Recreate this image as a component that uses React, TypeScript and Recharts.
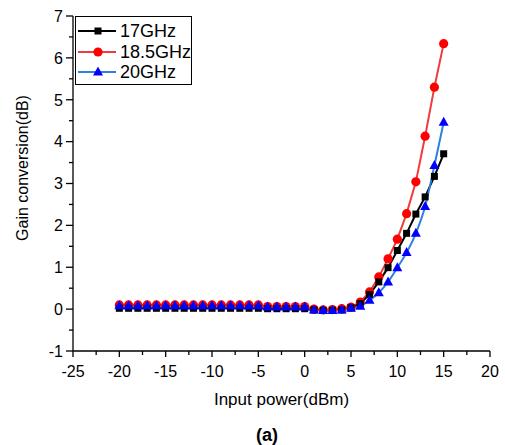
import React from 'react';
import { LineChart, Line, XAxis, YAxis } from 'recharts';

const inputPower = [-20, -19, -18, -17, -16, -15, -14, -13, -12, -11, -10, -9, -8, -7, -6, -5, -4, -3, -2, -1, 0, 1, 2, 3, 4, 5, 6, 7, 8, 9, 10, 11, 12, 13, 14, 15];
const gain17 = [0.02, 0.02, 0.02, 0.02, 0.02, 0.02, 0.02, 0.02, 0.02, 0.02, 0.02, 0.02, 0.02, 0.02, 0.02, 0.02, 0.01, 0.01, 0.01, 0.01, 0.01, -0.02, -0.03, -0.03, -0.02, 0.03, 0.13, 0.35, 0.65, 0.99, 1.4, 1.81, 2.27, 2.68, 3.17, 3.71];
const gain185 = [0.1, 0.1, 0.1, 0.1, 0.1, 0.1, 0.1, 0.1, 0.1, 0.1, 0.1, 0.1, 0.1, 0.1, 0.1, 0.1, 0.06, 0.06, 0.06, 0.06, 0.06, 0.0, -0.02, -0.01, 0.01, 0.05, 0.17, 0.41, 0.77, 1.2, 1.67, 2.28, 3.04, 4.13, 5.3, 6.34];
const gain20 = [0.08, 0.08, 0.08, 0.08, 0.08, 0.08, 0.08, 0.08, 0.08, 0.08, 0.08, 0.08, 0.08, 0.08, 0.08, 0.08, 0.05, 0.05, 0.05, 0.05, 0.05, -0.02, -0.03, -0.03, -0.02, 0.02, 0.07, 0.21, 0.39, 0.65, 0.99, 1.35, 1.81, 2.45, 3.43, 4.46];

const xTicks = [-25, -22.5, -20, -17.5, -15, -12.5, -10, -7.5, -5, -2.5, 0, 2.5, 5, 7.5, 10, 12.5, 15, 17.5, 20];
const yTicks = [-1, -0.5, 0, 0.5, 1, 1.5, 2, 2.5, 3, 3.5, 4, 4.5, 5, 5.5, 6, 6.5, 7];
const seriesNames = ['17GHz', '18.5GHz', '20GHz'];

const data = inputPower.map((p, i) => ({ p, a: gain17[i], b: gain185[i], c: gain20[i] }));

const FONT = '"Liberation Sans", Arial, sans-serif';

const Square = ({ cx, cy, fill }: any) => <rect x={cx - 3.5} y={cy - 3.5} width={7} height={7} fill={fill} />;
const Circle = ({ cx, cy, fill }: any) => <circle cx={cx} cy={cy} r={4.6} fill={fill} />;
const Tri = ({ cx, cy, fill }: any) => (
  <polygon points={`${cx},${cy - 5.5} ${cx + 5},${cy + 3.5} ${cx - 5},${cy + 3.5}`} fill={fill} />
);

const XTick = ({ x, y, payload }: any) => {
  const v = payload.value;
  const major = Math.abs(v % 5) < 1e-6;
  return (
    <g>
      <line x1={x} x2={x} y1={y} y2={y + (major ? 6 : 4)} stroke="#000" strokeWidth={1.3} />
      {major && (
        <text x={x} y={y + 20} dy="0.36em" textAnchor="middle" fontSize={16} fontFamily={FONT} fill="#000">
          {v}
        </text>
      )}
    </g>
  );
};

const YTick = ({ x, y, payload }: any) => {
  const v = payload.value;
  const major = Math.abs(v % 1) < 1e-6;
  return (
    <g>
      <line x1={x} x2={x - (major ? 7 : 4)} y1={y} y2={y} stroke="#000" strokeWidth={1.3} />
      {major && (
        <text x={x - 10} y={y} dy="0.36em" textAnchor="end" fontSize={16} fontFamily={FONT} fill="#000">
          {v}
        </text>
      )}
    </g>
  );
};

const legendItems = [
  { name: seriesNames[0], line: '#000000', mark: '#000000', Shape: Square },
  { name: seriesNames[1], line: '#F03C3C', mark: '#FF0000', Shape: Circle },
  { name: seriesNames[2], line: '#2F80E0', mark: '#0000FF', Shape: Tri },
];

export default function App() {
  return (
    <div style={{ position: 'absolute', left: 0, top: 0, width: 505, height: 445, background: '#fff', fontFamily: FONT }}>
      <LineChart width={505} height={445} data={data} margin={{ top: 16, right: 15, bottom: 64, left: 0 }}>
        <XAxis
          dataKey="p"
          type="number"
          domain={[-25, 20]}
          ticks={xTicks}
          interval={0}
          tickSize={0}
          tickMargin={0}
          tickLine={false}
          tick={<XTick />}
          height={30}
          axisLine={{ stroke: '#000', strokeWidth: 1.3 }}
        />
        <XAxis xAxisId="top" orientation="top" dataKey="p" type="number" domain={[-25, 20]} height={0} tick={false} tickLine={false} axisLine={{ stroke: '#000', strokeWidth: 1.3 }} />
        <YAxis
          type="number"
          domain={[-1, 7]}
          ticks={yTicks}
          interval={0}
          tickSize={0}
          tickMargin={0}
          tickLine={false}
          tick={<YTick />}
          width={73}
          axisLine={{ stroke: '#000', strokeWidth: 1.3 }}
        />
        <YAxis yAxisId="right" orientation="right" type="number" domain={[-1, 7]} width={0} tick={false} tickLine={false} axisLine={{ stroke: '#000', strokeWidth: 1.3 }} />
        <Line
          dataKey="b"
          type="linear"
          stroke="#F03C3C"
          strokeWidth={2}
          isAnimationActive={false}
          dot={(p: any) => <Circle key={`b${p.index}`} cx={p.cx} cy={p.cy} fill="#FF0000" />}
        />
        <Line
          dataKey="a"
          type="linear"
          stroke="#000000"
          strokeWidth={2}
          isAnimationActive={false}
          dot={(p: any) => <Square key={`a${p.index}`} cx={p.cx} cy={p.cy} fill="#000000" />}
        />
        <Line
          dataKey="c"
          type="monotone"
          stroke="#2F80E0"
          strokeWidth={2}
          isAnimationActive={false}
          dot={(p: any) => <Tri key={`c${p.index}`} cx={p.cx} cy={p.cy} fill="#0000FF" />}
        />
      </LineChart>

      <div
        style={{
          position: 'absolute',
          left: 75,
          top: 16,
          width: 117,
          height: 69,
          border: '1px solid #000',
          boxSizing: 'border-box',
          background: '#fff',
        }}
      >
        {legendItems.map((it, i) => (
          <div key={it.name} style={{ position: 'absolute', left: 0, top: 4 + i * 20.5, height: 20, width: 116, display: 'flex', alignItems: 'center' }}>
            <svg width={42} height={20} style={{ display: 'block' }}>
              <line x1={2} x2={40} y1={10} y2={10} stroke={it.line} strokeWidth={2} />
              <it.Shape cx={22} cy={10} fill={it.mark} />
            </svg>
            <span style={{ fontSize: 18, lineHeight: '20px', color: '#000', marginLeft: 2 }}>{it.name}</span>
          </div>
        ))}
      </div>

      <div style={{ position: 'absolute', left: 0, width: 563, top: 390, textAlign: 'center', fontSize: 17, lineHeight: '20px', color: '#000' }}>
        Input power(dBm)
      </div>
      <div
        style={{
          position: 'absolute',
          left: 23 - 100,
          top: 168 - 10,
          width: 200,
          height: 20,
          textAlign: 'center',
          fontSize: 16,
          lineHeight: '20px',
          color: '#000',
          transform: 'rotate(-90deg)',
          transformOrigin: '100px 10px',
        }}
      >
        Gain conversion(dB)
      </div>
      <div style={{ position: 'absolute', left: 167, width: 200, top: 425, textAlign: 'center', fontSize: 18, fontWeight: 'bold', lineHeight: '20px', color: '#000' }}>
        (a)
      </div>
    </div>
  );
}
